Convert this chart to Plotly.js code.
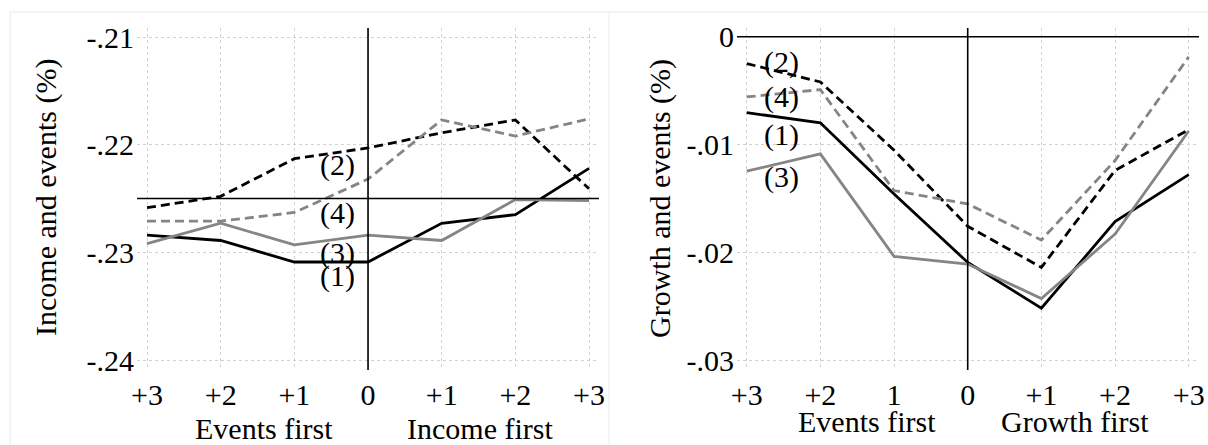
<!DOCTYPE html>
<html>
<head>
<meta charset="utf-8">
<script src="https://cdn.plot.ly/plotly-3.0.1.min.js"></script>
<style>html,body{margin:0;padding:0;background:#fff;}#chart{width:1208px;height:445px;}</style>
</head>
<body>
<div id="chart"></div>
<script>
// ---- data ----
const xIdx = [0, 1, 2, 3, 4, 5, 6];
const incomeTickText = ['+3', '+2', '+1', '0', '+1', '+2', '+3'];
const growthTickText = ['+3', '+2', '1', '0', '+1', '+2', '+3'];
const incomeYTickVals = [-0.21, -0.22, -0.23, -0.24];
const incomeYTickText = ['-.21', '-.22', '-.23', '-.24'];
const growthYTickVals = [0, -0.01, -0.02, -0.03];
const growthYTickText = ['0', '-.01', '-.02', '-.03'];

const income1 = [-0.2284, -0.2289, -0.2309, -0.2309, -0.2273, -0.2265, -0.2222];
const income2 = [-0.22585, -0.2248, -0.2213, -0.2203, -0.2189, -0.2177, -0.2241];
const income3 = [-0.2292, -0.2273, -0.2293, -0.2284, -0.2289, -0.2251, -0.2252];
const income4 = [-0.2271, -0.2271, -0.2263, -0.2232, -0.2177, -0.2192, -0.2176];

const growth1 = [-0.00703, -0.00796, -0.01455, -0.0209, -0.02514, -0.01712, -0.01276];
const growth2 = [-0.00248, -0.00418, -0.0105, -0.01755, -0.02136, -0.01238, -0.0086];
const growth3 = [-0.01245, -0.01084, -0.02034, -0.02105, -0.02424, -0.01827, -0.00873];
const growth4 = [-0.00557, -0.00489, -0.01424, -0.01548, -0.01882, -0.01146, -0.00186];

const seriesLabels = ['(1)', '(2)', '(3)', '(4)'];
const incomeRef = -0.225;
const growthRef = 0;

// ---- styles ----
const FONT = 'Liberation Serif, Times New Roman, serif';
const FS = 30;
const BLACK = '#000000';
const GREY = '#858585';
const DASH = '9px,5px';
const W = 2.8;
const styles = [
  {color: BLACK, dash: 'solid'},
  {color: BLACK, dash: DASH},
  {color: GREY, dash: 'solid'},
  {color: GREY, dash: DASH}
];

function mk(y, i, xa, ya) {
  return {x: xIdx, y: y, xaxis: xa, yaxis: ya, type: 'scatter', mode: 'lines',
    line: {color: styles[i].color, dash: styles[i].dash, width: W}, hoverinfo: 'skip', showlegend: false};
}
const traces = [
  mk(income1, 0, 'x', 'y'), mk(income2, 1, 'x', 'y'), mk(income3, 2, 'x', 'y'), mk(income4, 3, 'x', 'y'),
  mk(growth1, 0, 'x2', 'y2'), mk(growth2, 1, 'x2', 'y2'), mk(growth3, 2, 'x2', 'y2'), mk(growth4, 3, 'x2', 'y2')
];

const px = v => v / 1208;
const py = v => 1 - v / 445;

const baseX = {
  tickmode: 'array', tickvals: xIdx, ticks: '', showline: false, zeroline: false,
  showgrid: true, gridcolor: '#d2d2d2', griddash: '3px,3px', gridwidth: 1,
  tickfont: {family: FONT, size: FS, color: BLACK}, ticklabelstandoff: 4, fixedrange: true
};
const baseY = {
  tickmode: 'array', ticks: '', showline: false, zeroline: false,
  showgrid: true, gridcolor: '#d2d2d2', griddash: '3px,3px', gridwidth: 1,
  tickfont: {family: FONT, size: FS, color: BLACK}, ticklabelstandoff: 2, fixedrange: true
};

const ann = (x, y, t, extra) => Object.assign({xref: 'paper', yref: 'paper', x: px(x), y: py(y), text: t, showarrow: false,
  font: {family: FONT, size: FS, color: BLACK}, xanchor: 'center', yanchor: 'middle'}, extra || {});
const lab = (xr, yr, x, y, t) => ({xref: xr, yref: yr, x: x, y: y, text: t, showarrow: false,
  font: {family: FONT, size: FS, color: BLACK}, xanchor: 'center', yanchor: 'middle'});

const layout = {
  width: 1208, height: 445,
  margin: {l: 0, r: 0, t: 0, b: 0},
  paper_bgcolor: '#ffffff', plot_bgcolor: 'rgba(0,0,0,0)',
  showlegend: false,
  xaxis: Object.assign({}, baseX, {domain: [px(137), px(599)], range: [-0.1357, 6.135], ticktext: incomeTickText, anchor: 'y'}),
  yaxis: Object.assign({}, baseY, {domain: [py(370), py(28)], range: [-0.240929, -0.209164], tickvals: incomeYTickVals, ticktext: incomeYTickText, anchor: 'x'}),
  xaxis2: Object.assign({}, baseX, {domain: [px(737), px(1199)], range: [-0.1317, 6.1396], ticktext: growthTickText, anchor: 'y2'}),
  yaxis2: Object.assign({}, baseY, {domain: [py(370), py(28)], range: [-0.030861, 0.000815], tickvals: growthYTickVals, ticktext: growthYTickText, anchor: 'x2'}),
  shapes: [
    // faint panel frame
    {type: 'line', xref: 'paper', yref: 'paper', x0: px(10), x1: px(10), y0: py(12), y1: 0, line: {color: '#e4ecec', width: 1}},
    {type: 'line', xref: 'paper', yref: 'paper', x0: px(10), x1: 1, y0: py(12), y1: py(12), line: {color: '#e4ecec', width: 1}},
    {type: 'line', xref: 'paper', yref: 'paper', x0: px(609), x1: px(609), y0: py(12), y1: 0, line: {color: '#e4ecec', width: 1}},
    // reference lines
    {type: 'line', xref: 'x domain', yref: 'y', x0: 0, x1: 1, y0: incomeRef, y1: incomeRef, line: {color: BLACK, width: 1.6}},
    {type: 'line', xref: 'x', yref: 'y domain', x0: 3, x1: 3, y0: 0, y1: 1, line: {color: BLACK, width: 1.6}},
    {type: 'line', xref: 'x2 domain', yref: 'y2', x0: 0, x1: 1, y0: growthRef, y1: growthRef, line: {color: BLACK, width: 1.6}},
    {type: 'line', xref: 'x2', yref: 'y2 domain', x0: 3, x1: 3, y0: 0, y1: 1, line: {color: BLACK, width: 1.6}}
  ],
  annotations: [
    // axis titles
    ann(46, 198, 'Income and events (%)', {textangle: -90}),
    ann(660, 199, 'Growth and events (%)', {textangle: -90}),
    ann(264, 428, 'Events first'),
    ann(480, 428, 'Income first'),
    ann(867, 421, 'Events first'),
    ann(1075, 421, 'Growth first'),
    // series labels, left panel
    lab('x', 'y', 2.59, -0.23219, seriesLabels[0]),
    lab('x', 'y', 2.59, -0.22188, seriesLabels[1]),
    lab('x', 'y', 2.59, -0.23006, seriesLabels[2]),
    lab('x', 'y', 2.59, -0.22634, seriesLabels[3]),
    // series labels, right panel
    lab('x2', 'y2', 0.466, -0.00908, seriesLabels[0]),
    lab('x2', 'y2', 0.466, -0.00229, seriesLabels[1]),
    lab('x2', 'y2', 0.466, -0.01295, seriesLabels[2]),
    lab('x2', 'y2', 0.466, -0.00553, seriesLabels[3])
  ]
};

Plotly.newPlot('chart', traces, layout, {staticPlot: true, displayModeBar: false});
</script>
</body>
</html>
